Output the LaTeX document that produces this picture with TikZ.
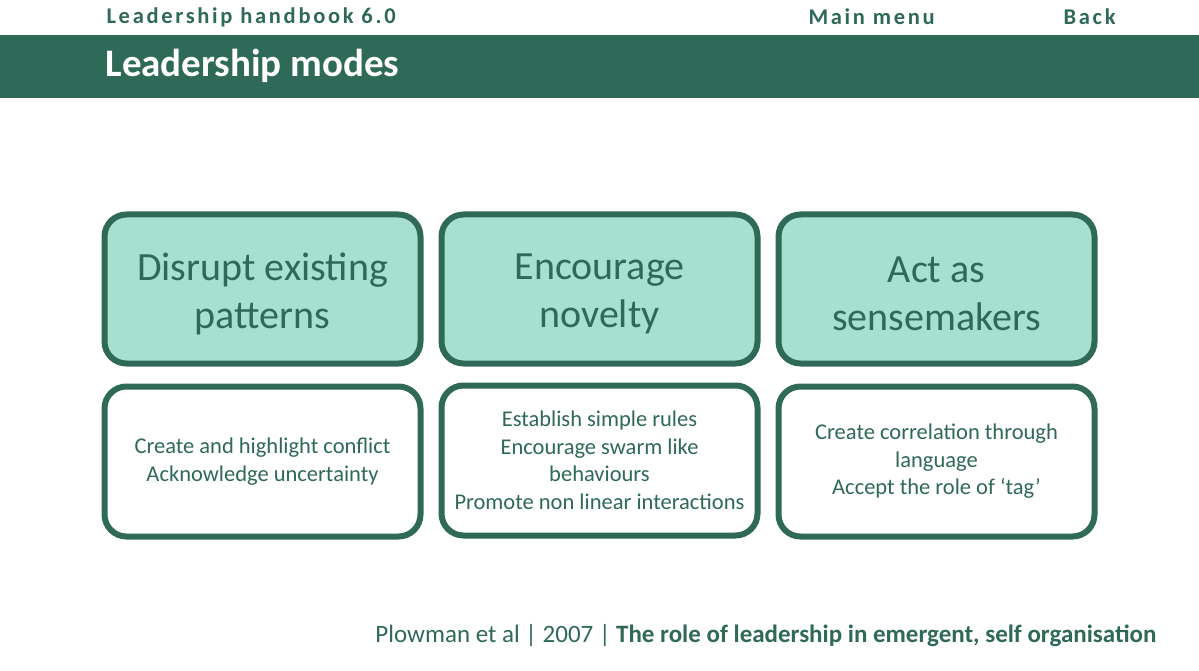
\documentclass[tikz,border=0pt]{standalone}
\usepackage{fontspec}
\setmainfont{Carlito}
\definecolor{dg}{RGB}{47,105,87}
\definecolor{lg}{RGB}{168,224,208}
\begin{document}
\begin{tikzpicture}[x=1pt,y=-1pt,
  topbox/.style={draw=dg,line width=6pt,fill=lg,rounded corners=22pt,minimum width=316pt,minimum height=149pt},
  toptext/.style={text=dg,font=\fontsize{40}{48}\selectfont,align=center},
  botbox/.style={draw=dg,line width=6pt,fill=white,rounded corners=22pt,minimum width=316pt,minimum height=150pt,text=dg,font=\fontsize{22.5}{27.5}\selectfont,align=center},
  hdr/.style={text=dg,font=\fontsize{22.5}{24}\selectfont\bfseries\addfontfeature{LetterSpace=12},anchor=west}]
\useasboundingbox (0,0) rectangle (1199,671);
\fill[dg] (0,35) rectangle (1199,98);
\node[hdr] (hb) at (103,17) {Leadership handbook 6.0};
\node[hdr] (mm) at (805,17) {Main menu};
\node[hdr] (bk) at (1060,17) {Back};
\node[anchor=west,text=white,font=\fontsize{39}{42}\selectfont\bfseries] (title) at (102,66) {Leadership modes};
\node[topbox] (t1) at (262.5,289) {};
\node[topbox] (t2) at (599.5,289) {};
\node[topbox] (t3) at (936.5,289) {};
\node[toptext] (l1) at ([yshift=-5pt]t1.center) {Disrupt existing\\patterns};
\node[toptext] (l2) at ([yshift=-5pt]t2.center) {Encourage\\novelty};
\node[toptext] (l3) at ([yshift=-5pt]t3.center) {Act as\\sensemakers};
\node[botbox] (b1) at (262.5,461.5) {Create and highlight conflict\\Acknowledge uncertainty};
\node[botbox] (b2) at (599.5,460.5) {Establish simple rules\\Encourage swarm like\\behaviours\\Promote non linear interactions};
\node[botbox] (b3) at (936.5,461.5) {Create correlation through\\language\\Accept the role of ‘tag’};
\node[anchor=east,text=dg,font=\fontsize{25}{28}\selectfont] (ft) at (1160,636) {Plowman et al \textbar{} 2007 \textbar{} \textbf{The role of leadership in emergent, self organisation}};
\end{tikzpicture}
\end{document}
